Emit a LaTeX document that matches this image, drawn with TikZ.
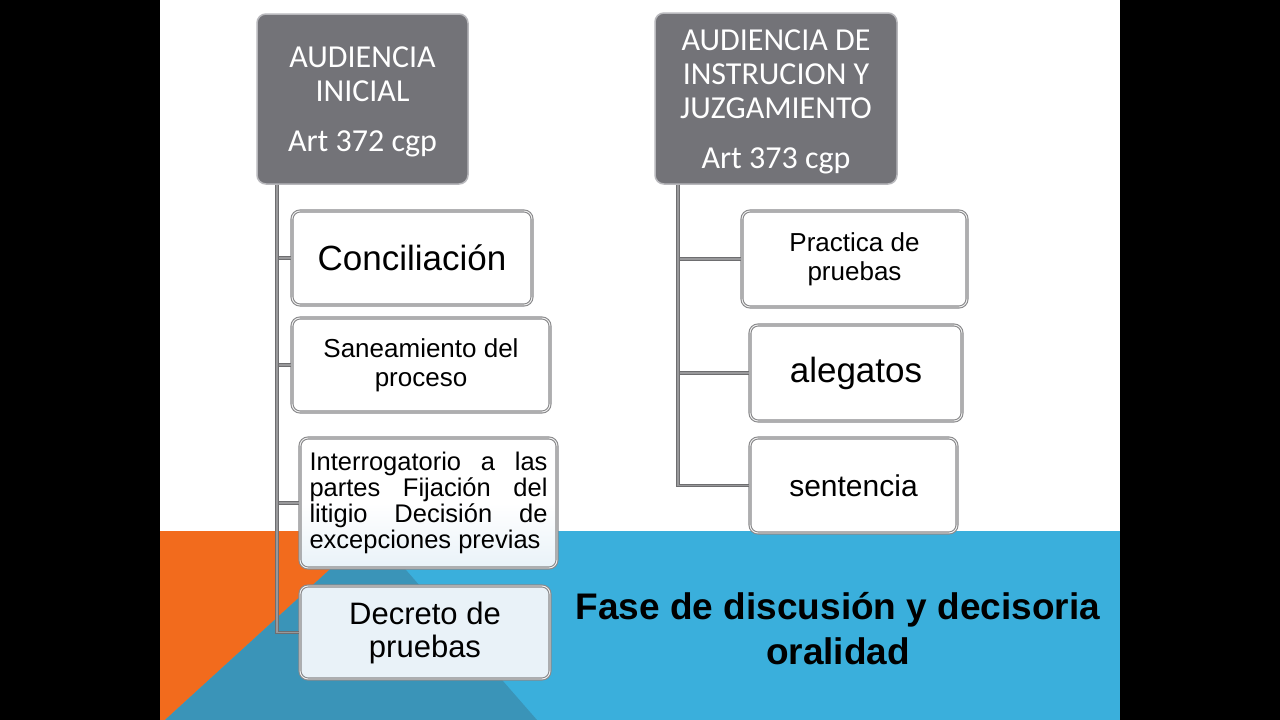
\documentclass[tikz,border=0pt]{standalone}
\usepackage{fontspec}
\setmainfont{Liberation Sans}
\newfontfamily\calibri{Carlito}
\definecolor{orng}{HTML}{F26B1D}
\definecolor{lblue}{HTML}{3AAFDC}
\definecolor{dblue}{HTML}{3A94B8}
\definecolor{hdfill}{HTML}{737378}
\definecolor{hdedge}{HTML}{B8B8BC}
\definecolor{bxedge}{HTML}{8A8A8C}
\definecolor{lnclr}{HTML}{6E6E70}
\definecolor{pale}{HTML}{E9F2F8}
\tikzset{
  x=1pt, y=-1pt,
  headbox/.style={draw=hdedge, line width=1.5pt, fill=hdfill, rounded corners=9pt, inner sep=0pt},
  headtext/.style={text=white, align=center, inner sep=0pt, font=\calibri\fontsize{32}{34}\selectfont},
  childbox/.style={draw=bxedge, line width=1.1pt, double=white!88!gray, double distance=0.9pt,
    fill=white, rounded corners=8pt, align=center, inner sep=0pt},
  conn/.style={draw=lnclr, line width=1.4pt, double=lnclr!70!white, double distance=1.1pt}
}
\begin{document}
\begin{tikzpicture}
\useasboundingbox (0,0) rectangle (1280,720);
% background
\fill[black] (0,0) rectangle (160,720);
\fill[black] (1120,0) rectangle (1280,720);
\fill[white] (160,0) rectangle (1120,720);
\fill[lblue] (160,531) rectangle (1120,720);
\fill[orng] (160,531) -- (372,531) -- (165,720) -- (160,720) -- cycle;
\fill[dblue] (372,531) -- (165,720) -- (537,720) -- cycle;

% header boxes
\node[headbox, minimum width=211pt, minimum height=170pt] (L) at (362.5,99) {};
\node[headtext] (Lt) at (362.5,102) {AUDIENCIA\\INICIAL\\[16pt]Art 372 cgp};
\node[headbox, minimum width=242pt, minimum height=171pt] (R) at (776,98.5) {};
\node[headtext] (Rt) at (776,101.5) {AUDIENCIA DE\\INSTRUCION Y\\JUZGAMIENTO\\[16pt]Art 373 cgp};

% connector rails
\coordinate (lx) at (277,0);
\coordinate (rx) at (678,0);

% left children
\node[childbox, minimum width=240pt, minimum height=94pt, font=\fontsize{35}{40}\selectfont] (c1) at (412,258) {Conciliación};
\node[childbox, minimum width=258pt, minimum height=94pt, font=\fontsize{26}{29}\selectfont] (c2) at (421,365) {Saneamiento del\\proceso};
\node[childbox, minimum width=257pt, minimum height=130pt, font=\fontsize{25.5}{26}\selectfont, align=left,
  top color=white, bottom color=pale, middle color=white] (c3) at (428.5,503)
  {\makebox[238pt][s]{Interrogatorio a las}\\\makebox[238pt][s]{partes Fijación del}\\\makebox[238pt][s]{litigio Decisión de}\\excepciones previas};
\node[childbox, fill=pale, minimum width=250pt, minimum height=93pt, font=\fontsize{31}{33}\selectfont] (c4) at (425,632.5) {Decreto de\\pruebas};

% right children
\node[childbox, minimum width=225pt, minimum height=96pt, font=\fontsize{26}{29}\selectfont] (d1) at (854.5,259) {Practica de\\pruebas};
\node[childbox, minimum width=212pt, minimum height=96pt, font=\fontsize{35}{40}\selectfont] (d2) at (856,373) {alegatos};
\node[childbox, minimum width=207pt, minimum height=95pt, font=\fontsize{30}{34}\selectfont] (d3) at (853.5,485.5) {sentencia};

% connectors
\draw[conn] (L.south -| lx) |- (c1.west);
\draw[conn] (L.south -| lx) |- (c2.west);
\draw[conn] (L.south -| lx) |- (c3.west);
\draw[conn] (L.south -| lx) |- (c4.west);
\draw[conn] (R.south -| rx) |- (d1.west);
\draw[conn] (R.south -| rx) |- (d2.west);
\draw[conn] (R.south -| rx) |- (d3.west);

% footer text
\node[font=\bfseries\fontsize{37}{45}\selectfont, align=center, text=black] (ft) at (838,629)
  {Fase de discusión y decisoria\\oralidad};
\end{tikzpicture}
\end{document}
